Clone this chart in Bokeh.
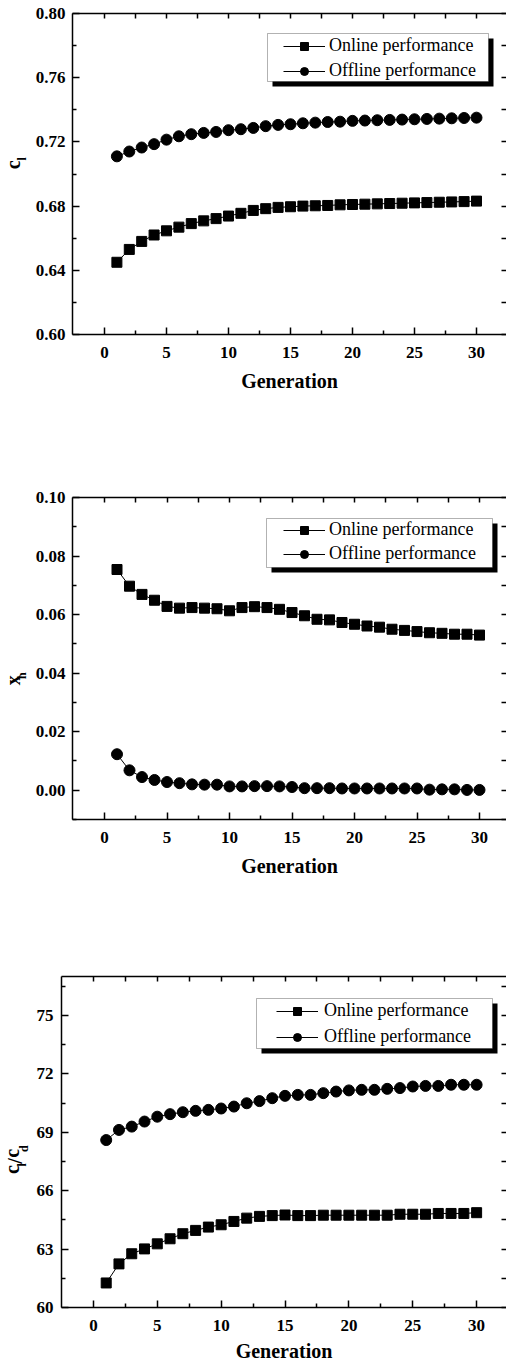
import math
from bokeh.plotting import figure
from bokeh.models import (LinearAxis, FixedTicker, Legend, LegendItem, Label,
                          BoxAnnotation, Range1d, PrintfTickFormatter)
from bokeh.layouts import column, row
from bokeh.embed import file_html
from bokeh.resources import INLINE

# ---------------- data ----------------
generation = list(range(1, 31))

cl_online = [0.645, 0.653, 0.658, 0.662, 0.6646, 0.6669, 0.6691, 0.6708, 0.6722, 0.6738,
             0.6755, 0.6773, 0.6784, 0.6792, 0.6796, 0.6800, 0.6802, 0.6804, 0.6808, 0.6810,
             0.6812, 0.6814, 0.6816, 0.6818, 0.6820, 0.6822, 0.6824, 0.6826, 0.6828, 0.6831]
cl_offline = [0.711, 0.714, 0.7165, 0.7186, 0.7214, 0.7235, 0.7248, 0.7256, 0.7262, 0.7273,
              0.7279, 0.7287, 0.7298, 0.7306, 0.7310, 0.7316, 0.7320, 0.7324, 0.7326, 0.7331,
              0.7333, 0.7335, 0.7337, 0.7339, 0.7341, 0.7343, 0.7345, 0.7347, 0.7349, 0.7351]

xh_online = [0.0754, 0.0697, 0.0669, 0.0649, 0.0628, 0.0622, 0.0624, 0.0622, 0.0620, 0.0613,
             0.0624, 0.0627, 0.0624, 0.0618, 0.0607, 0.0596, 0.0584, 0.0582, 0.0573, 0.0567,
             0.0561, 0.0557, 0.0550, 0.0546, 0.0542, 0.0538, 0.0536, 0.0533, 0.0533, 0.0530]
xh_offline = [0.0123, 0.0068, 0.0045, 0.0035, 0.0028, 0.0024, 0.0020, 0.0019, 0.0019, 0.0013,
              0.0013, 0.0014, 0.0014, 0.0013, 0.0011, 0.0007, 0.0007, 0.0007, 0.0006, 0.0006,
              0.0006, 0.0006, 0.0006, 0.0006, 0.0006, 0.0002, 0.0003, 0.0003, 0.0001, 0.0001]

ld_online = [61.26, 62.24, 62.76, 63.01, 63.27, 63.53, 63.79, 63.96, 64.13, 64.25,
             64.42, 64.59, 64.68, 64.72, 64.75, 64.72, 64.72, 64.74, 64.74, 64.74,
             64.74, 64.74, 64.74, 64.79, 64.79, 64.79, 64.83, 64.83, 64.83, 64.87]
ld_offline = [68.60, 69.12, 69.29, 69.55, 69.80, 69.93, 70.03, 70.10, 70.15, 70.22,
              70.32, 70.49, 70.60, 70.75, 70.87, 70.92, 70.92, 71.01, 71.09, 71.15,
              71.18, 71.18, 71.23, 71.27, 71.35, 71.38, 71.38, 71.44, 71.44, 71.44]

x_ticks = [0, 5, 10, 15, 20, 25, 30]
x_minor = [2.5, 7.5, 12.5, 17.5, 22.5, 27.5]
cl_ticks = [0.60, 0.64, 0.68, 0.72, 0.76, 0.80]
cl_minor = [0.62, 0.66, 0.70, 0.74, 0.78]
xh_ticks = [0.00, 0.02, 0.04, 0.06, 0.08, 0.10]
xh_minor = [-0.01, 0.01, 0.03, 0.05, 0.07, 0.09]
ld_ticks = [60, 63, 66, 69, 72, 75]
ld_minor = [61.5, 64.5, 67.5, 70.5, 73.5, 76.5]

labels = ["Online performance", "Offline performance"]
x_title = "Generation"

SERIF = "Liberation Serif"
TOTAL_W = 506


def style_axis(ax, tick_font="17px"):
    ax.axis_line_width = 1.5
    ax.axis_line_color = "black"
    ax.major_tick_in = 7
    ax.major_tick_out = 0
    ax.minor_tick_in = 4
    ax.minor_tick_out = 0
    ax.major_tick_line_width = 1.5
    ax.minor_tick_line_width = 1.5
    ax.major_tick_line_color = "black"
    ax.minor_tick_line_color = "black"
    ax.major_label_text_font = SERIF
    ax.major_label_text_font_style = "bold"
    ax.major_label_text_font_size = tick_font
    ax.major_label_text_color = "black"


def mirror_axis(ticks, minor, length):
    # tick marks only (no labels): every tick drawn as a minor tick
    ax = LinearAxis(ticker=FixedTicker(ticks=[], minor_ticks=sorted(ticks + minor)))
    ax.axis_line_width = 1.5
    ax.axis_line_color = "black"
    ax.minor_tick_in = length
    ax.minor_tick_out = 0
    ax.minor_tick_line_width = 1.5
    ax.minor_tick_line_color = "black"
    ax.major_tick_in = 0
    ax.major_tick_out = 0
    ax.major_label_standoff = 0
    return ax


def label_fig(width, height, parts):
    f = figure(width=width, height=height, x_range=Range1d(0, width),
               y_range=Range1d(height, 0), output_backend="svg",
               toolbar_location=None, x_axis_location=None, y_axis_location=None,
               min_border_left=0, min_border_right=0, min_border_top=0,
               min_border_bottom=0, outline_line_color=None,
               background_fill_color="white", border_fill_color="white")
    f.xgrid.visible = False
    f.ygrid.visible = False
    for (txt, x, y, size) in parts:
        f.add_layout(Label(x=x, y=y, text=txt, angle=math.pi / 2,
                           text_align="center", text_baseline="middle",
                           text_font=SERIF, text_font_style="bold",
                           text_font_size=size, text_color="black"))
    return f


def panel(lab_w, height, b_top, b_bottom, frame_left, xr, yr, yt, ym, fmt, online,
          offline, legend_pos, spacing, standoff, box, tick_standoff, xlab_standoff,
          ylab_standoff):
    p = figure(width=TOTAL_W - lab_w, height=height, x_range=Range1d(*xr),
               y_range=Range1d(*yr), output_backend="svg", toolbar_location=None,
               min_border_top=b_top, min_border_bottom=b_bottom,
               min_border_left=frame_left - lab_w, min_border_right=0,
               background_fill_color="white", border_fill_color="white",
               outline_line_color=None)
    p.xgrid.visible = False
    p.ygrid.visible = False

    p.xaxis.ticker = FixedTicker(ticks=x_ticks, minor_ticks=x_minor)
    p.yaxis.ticker = FixedTicker(ticks=yt, minor_ticks=ym)
    p.yaxis.formatter = PrintfTickFormatter(format=fmt)
    for ax in p.xaxis:
        style_axis(ax)
        ax.major_label_standoff = tick_standoff
        ax.axis_label = x_title
        ax.axis_label_text_font = SERIF
        ax.axis_label_text_font_style = "bold"
        ax.axis_label_text_font_size = "20px"
        ax.axis_label_text_color = "black"
        ax.axis_label_standoff = xlab_standoff
    for ax in p.yaxis:
        style_axis(ax)
        ax.major_label_standoff = ylab_standoff

    p.add_layout(mirror_axis(x_ticks, x_minor, 5), "above")
    right = mirror_axis(yt, ym, 5)
    right.axis_line_color = None
    p.add_layout(right, "right")

    l1 = p.line(generation, online, line_color="black", line_width=1)
    s1 = p.scatter(generation, online, marker="square", size=10,
                   fill_color="black", line_color="black")
    l2 = p.line(generation, offline, line_color="black", line_width=1)
    s2 = p.scatter(generation, offline, marker="circle", size=11,
                   fill_color="black", line_color="black")

    bl, br, bt, bb = box
    p.add_layout(BoxAnnotation(left=bl + 5, right=br + 5, top=bt - 5, bottom=bb - 5,
                               left_units="screen", right_units="screen",
                               top_units="screen", bottom_units="screen",
                               fill_color="black", fill_alpha=1, line_color=None))
    p.add_layout(BoxAnnotation(left=bl, right=br, top=bt, bottom=bb,
                               left_units="screen", right_units="screen",
                               top_units="screen", bottom_units="screen",
                               fill_color="white", fill_alpha=1,
                               line_color="black", line_width=1))

    leg = Legend(items=[LegendItem(label=labels[0], renderers=[l1, s1]),
                        LegendItem(label=labels[1], renderers=[l2, s2])],
                 location=legend_pos, padding=0, margin=0, spacing=spacing,
                 label_height=20, glyph_height=20, glyph_width=42,
                 label_standoff=standoff, border_line_color=None,
                 background_fill_alpha=0, label_text_font=SERIF,
                 label_text_font_size="18px", label_text_color="black")
    p.add_layout(leg)
    return p


# panel 1: frame x 72..506, y 13..334 ; figure 0..400
p1 = panel(28, 400, 13, 66, 72, (-2.58, 32.42), (0.60, 0.80), cl_ticks, cl_minor,
           "%.2f", cl_online, cl_offline, (211, 253), 4, 4, (195, 416, 301, 253),
           12, 9, 7)
lab1 = label_fig(28, 400, [("c", 12.5, 188.5, "20px"), ("l", 21, 181, "12px")])

# panel 2: frame x 72..506, y 497..819 ; figure 400..890
p2 = panel(28, 490, 97, 71, 72, (-2.56, 32.16), (-0.01, 0.10), xh_ticks, xh_minor,
           "%.2f", xh_online, xh_offline, (211, 255), 3, 4, (194, 420, 301, 252),
           12, 9, 7)
lab2 = label_fig(28, 490, [("x", 12, 278, "20px"), ("h", 21, 271, "12px")])

# panel 3: frame x 60..506, y 976..1307 ; figure 890..1369
p3 = panel(33, 479, 86, 62, 60, (-2.5, 32.34), (60, 77), ld_ticks, ld_minor, "%d",
           ld_online, ld_offline, (215, 260), 5, 6, (195, 431, 309, 259), 12, 6, 8)
lab3 = label_fig(33, 479, [("c", 11, 279.5, "20px"), ("l", 21.5, 272.5, "12px"),
                           ("/", 14, 267, "20px"), ("c", 11, 256, "20px"),
                           ("d", 23, 249, "12px")])

layout = column(row(lab1, p1), row(lab2, p2), row(lab3, p3))
open("out.html", "w").write(file_html(layout, INLINE))
